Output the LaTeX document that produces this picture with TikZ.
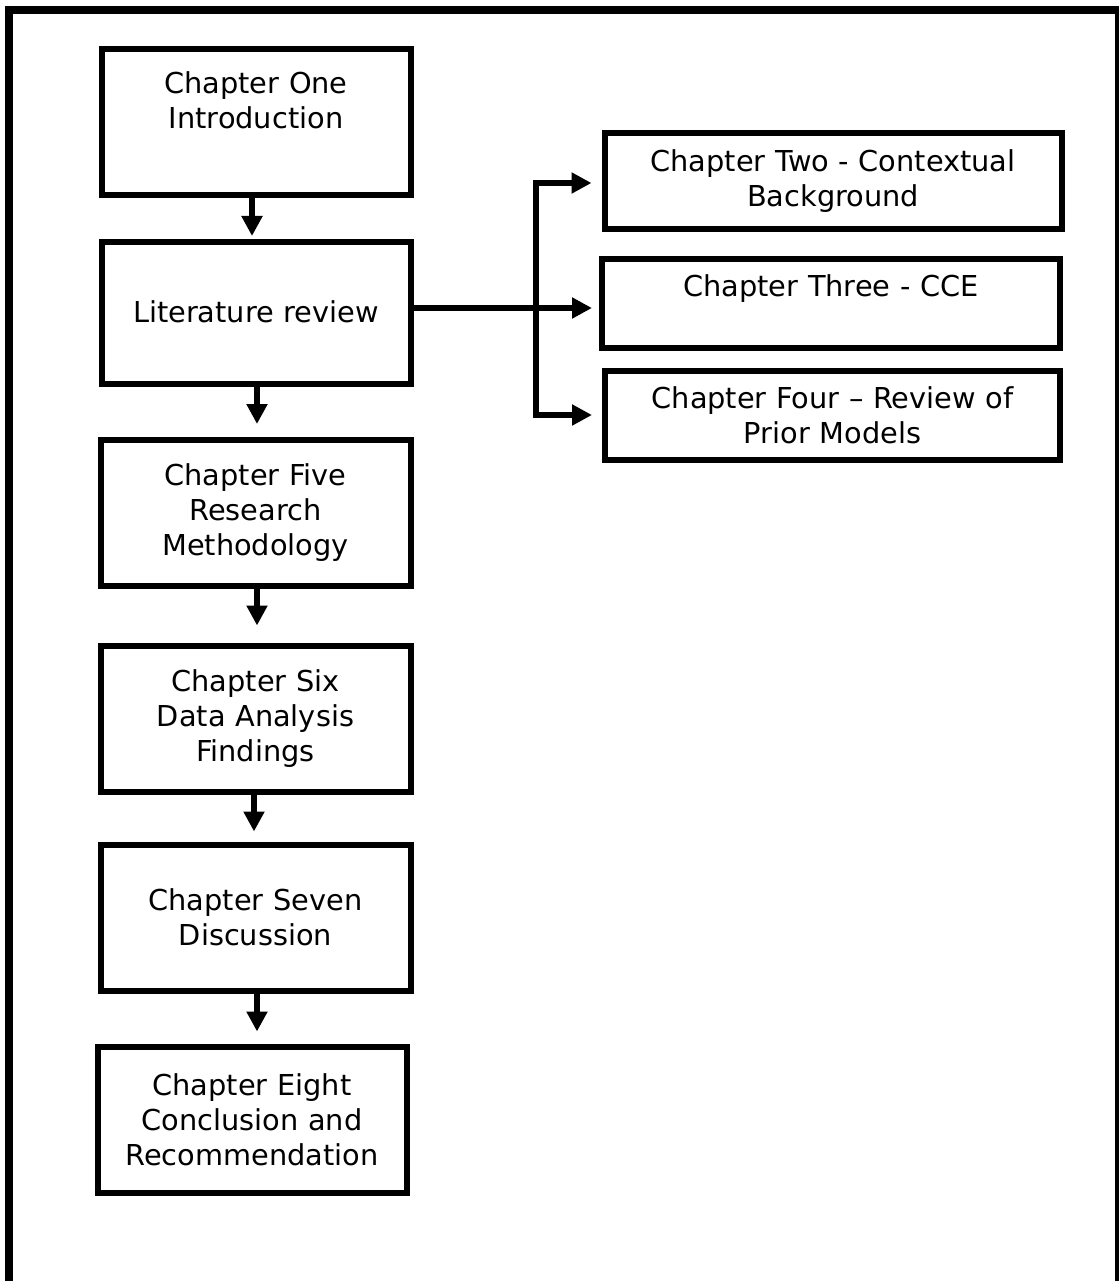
\documentclass[tikz,border=0pt]{standalone}
\usepackage{fontspec}
\setmainfont{DejaVu Sans}
\usetikzlibrary{arrows.meta}

\tikzset{
  chapbox/.style={draw, line width=6pt, inner sep=0pt, align=center,
    font=\fontsize{28.8}{35}\selectfont},
  mainbox/.style={chapbox, text width=309pt, minimum width=309pt, minimum height=146pt},
  sidebox/.style={chapbox, text width=457pt, minimum width=457pt, minimum height=90pt},
  flow/.style={line width=6pt, -{Triangle[length=20pt,width=20pt]}},
  frame/.style={line width=8pt}
}

\begin{document}
\begin{tikzpicture}[x=1pt, y=-1pt]
  \useasboundingbox (0,0) rectangle (1118,1281);
  \fill[white] (0,0) rectangle (1118,1281);

  % outer frame, open at the bottom
  \draw[frame] (9,1300) -- (9,10.5) -- (1119,10.5) -- (1119,1300);

  % main chain of chapters
  \node[mainbox] (B1) at (256,122.5) {Chapter One\\Introduction\\[10pt]\mbox{}};
  \node[mainbox, minimum height=142pt] (B2) at (256,313) {\raisebox{3pt}{Literature review}};
  \node[mainbox, text width=310pt, minimum width=310pt] (B3) at (255.5,513) {\raisebox{-3pt}{\parbox{310pt}{\centering Chapter Five\\Research\\Methodology}}};
  \node[mainbox, text width=310pt, minimum width=310pt] (B4) at (255.5,718.5) {\raisebox{-3pt}{\parbox{310pt}{\centering Chapter Six\\Data Analysis\\Findings}}};
  \node[mainbox, text width=310pt, minimum width=310pt] (B5) at (255.5,917.5) {Chapter Seven\\Discussion};
  \node[mainbox] (B6) at (252,1119.5) {Chapter Eight\\Conclusion and\\Recommendation};

  % literature review chapters
  \node[sidebox, minimum height=96pt] (R1) at (833,181) {Chapter Two - Contextual\\Background};
  \node[sidebox, text width=458pt, minimum width=458pt, minimum height=89pt] (R2) at (831,303.5) {Chapter Three - CCE\\\mbox{}};
  \node[sidebox, text width=455pt, minimum width=455pt, minimum height=89pt] (R3) at (832.5,415.5) {Chapter Four – Review of\\Prior Models};

  % downward arrows
  \draw[flow, shorten >=3pt]  ([xshift=-4pt]B1.south) -- ([xshift=-4pt]B1.south |- B2.north);
  \draw[flow, shorten >=13pt] ([xshift=1pt]B2.south) -- ([xshift=1pt]B2.south |- B3.north);
  \draw[flow, shorten >=17pt] ([xshift=1.5pt]B3.south) -- ([xshift=1.5pt]B3.south |- B4.north);
  \draw[flow, shorten >=10pt] ([xshift=-1.5pt]B4.south) -- ([xshift=-1.5pt]B4.south |- B5.north);
  \draw[flow, shorten >=12pt] ([xshift=1.5pt]B5.south) -- ([xshift=1.5pt]B5.south |- B6.north);

  % branch to the literature review chapters
  \coordinate (jt) at (536,183);
  \coordinate (jb) at (536,415);
  \draw[flow, shorten >=7pt] ([yshift=5pt]B2.east) -- ([yshift=5pt]B2.east -| R2.west);
  \draw[flow, shorten >=10pt] (jb) -- (jt) -- (jt -| R1.west);
  \draw[flow, shorten >=10pt] (jt) -- (jb) -- (jb -| R3.west);
\end{tikzpicture}
\end{document}
